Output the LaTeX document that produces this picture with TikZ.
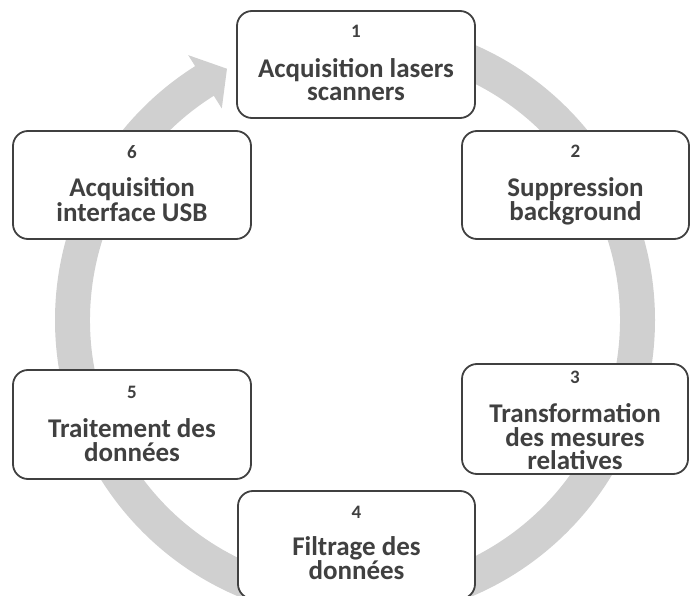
\documentclass[tikz,border=0pt]{standalone}
\usepackage{fontspec}
\setmainfont{Carlito}
\usetikzlibrary{calc}
\definecolor{ringgray}{RGB}{208,208,208}
\definecolor{linegray}{RGB}{64,64,64}
\definecolor{txtgray}{RGB}{64,64,64}
\begin{document}
\begin{tikzpicture}[x=1pt,y=-1pt,
  stepbox/.style={draw=linegray, line width=1.8pt, fill=white, rounded corners=15pt, inner sep=0pt, outer sep=0pt},
  numtxt/.style={anchor=base, inner sep=0pt, text=txtgray, font=\bfseries\fontsize{19}{22}\selectfont},
  bodytxt/.style={anchor=base, inner sep=0pt, text=txtgray, font=\bfseries\fontsize{27}{23}\selectfont}]
\useasboundingbox (0,0) rectangle (691,596);
\clip (0,0) rectangle (691,596);
\coordinate (c) at (355,320);
% circular arrow
\fill[ringgray] ($(c)+(90:300pt)$) arc[start angle=90,end angle=-237.8,radius=300pt]
  -- ($(c)+(-237.8:313pt)$) -- ($(c)+(-243:282pt)$) -- ($(c)+(-237.8:250pt)$)
  -- ($(c)+(-237.8:265pt)$) arc[start angle=-237.8,end angle=90,radius=265pt] -- cycle;
% boxes
\node[stepbox, minimum width=238pt, minimum height=107pt] (b1) at (356,64.5) {};
\node[stepbox, minimum width=227pt, minimum height=108pt] (b2) at (575.5,185) {};
\node[stepbox, minimum width=226pt, minimum height=110pt] (b3) at (575,419) {};
\node[stepbox, minimum width=237pt, minimum height=108pt] (b4) at (356.5,545) {};
\node[stepbox, minimum width=238pt, minimum height=109pt] (b5) at (132,424.5) {};
\node[stepbox, minimum width=238pt, minimum height=108pt] (b6) at (132,185) {};
% texts
\node[numtxt] (n1) at (356,38) {1};
\node[bodytxt] (t1a) at (356,78) {Acquisition lasers};
\node[bodytxt] (t1b) at (356,101) {scanners};
\node[numtxt] (n2) at (575.5,158) {2};
\node[bodytxt] (t2a) at (575.5,197) {Suppression};
\node[bodytxt] (t2b) at (575.5,221) {background};
\node[numtxt] (n3) at (575,383) {3};
\node[bodytxt] (t3a) at (575,422) {Transformation};
\node[bodytxt] (t3b) at (575,446) {des mesures};
\node[bodytxt] (t3c) at (575,469) {relatives};
\node[numtxt] (n4) at (356.5,518) {4};
\node[bodytxt] (t4a) at (356.5,555) {Filtrage des};
\node[bodytxt] (t4b) at (356.5,579) {données};
\node[numtxt] (n5) at (132,398) {5};
\node[bodytxt] (t5a) at (132,437) {Traitement des};
\node[bodytxt] (t5b) at (132,461) {données};
\node[numtxt] (n6) at (132,159) {6};
\node[bodytxt] (t6a) at (132,197) {Acquisition};
\node[bodytxt] (t6b) at (132,222) {interface USB};
\end{tikzpicture}
\end{document}
